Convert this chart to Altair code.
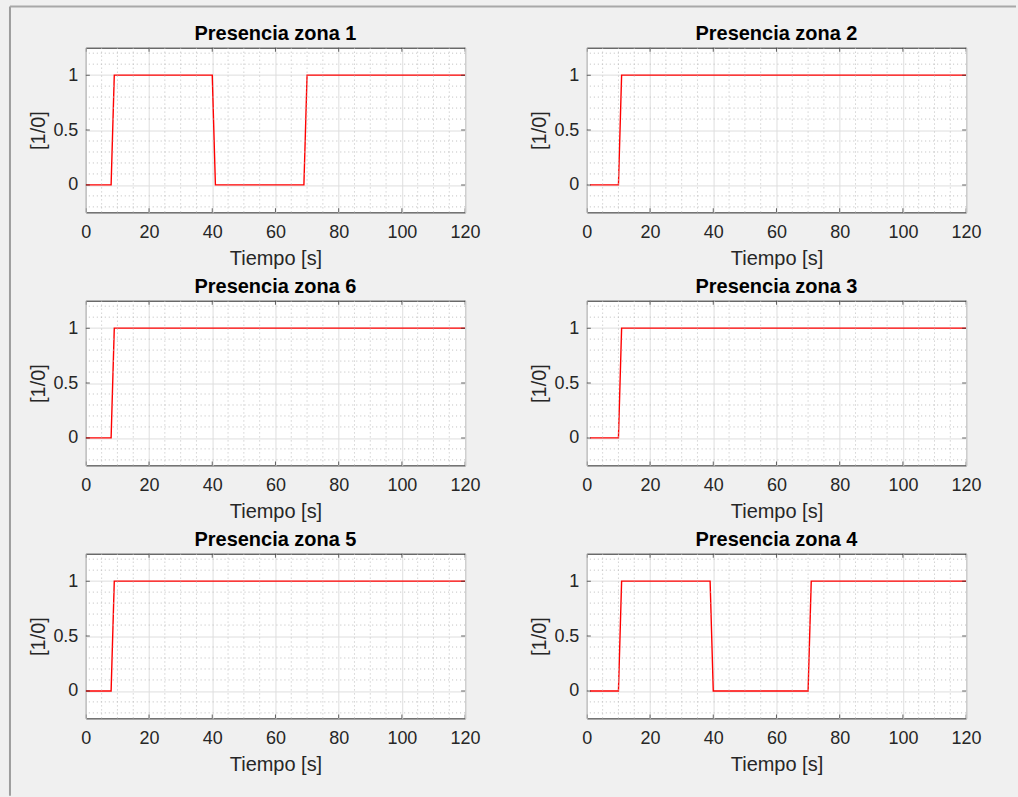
import altair as alt
import pandas as pd

# Presence signals (0 = empty, 1 = occupied) per zone, as step transitions
t_z1 = [0, 8, 9, 40, 41, 69, 70, 120]
v_z1 = [0, 0, 1, 1, 0, 0, 1, 1]
t_z2 = [1, 10, 11, 120]
v_z2 = [0, 0, 1, 1]
t_z6 = [0, 8, 9, 120]
v_z6 = [0, 0, 1, 1]
t_z3 = [1, 10, 11, 120]
v_z3 = [0, 0, 1, 1]
t_z5 = [0, 8, 9, 120]
v_z5 = [0, 0, 1, 1]
t_z4 = [1, 10, 11, 39, 40, 70, 71, 120]
v_z4 = [0, 0, 1, 1, 0, 0, 1, 1]

x_ticks = [0, 20, 40, 60, 80, 100, 120]
y_ticks = [0, 0.5, 1]
x_minor = [v for v in range(5, 120, 5) if v % 20 != 0]
y_minor = [-0.2, -0.1, 0.1, 0.2, 0.3, 0.4, 0.6, 0.7, 0.8, 0.9, 1.1, 1.2]
X_DOM = [0, 120]
Y_DOM = [-0.25, 1.25]

FONT = "Liberation Sans"
AX = "#262626"
W, H = 380, 165


def panel(title, t, v, window_frame=False):
    xs = alt.Scale(domain=X_DOM, nice=False, zero=False)
    ys = alt.Scale(domain=Y_DOM, nice=False, zero=False)
    df = pd.DataFrame({"t": t, "v": v})
    one = pd.DataFrame({"k": [0]})

    base = alt.Chart(df).mark_line(color="#ff0000", strokeWidth=1.4, clip=True).encode(
        x=alt.X("t:Q", scale=xs,
                axis=alt.Axis(values=x_ticks, title="Tiempo [s]", grid=True,
                              gridColor="#dedede", gridWidth=1, domain=False,
                              tickSize=0, labelPadding=11, titlePadding=7,
                              labelFontSize=18, titleFontSize=20, labelFont=FONT,
                              titleFont=FONT, labelColor=AX, titleColor=AX,
                              titleFontWeight="normal", labelFlush=False)),
        y=alt.Y("v:Q", scale=ys,
                axis=alt.Axis(values=y_ticks, format="~g", title="[1/0]", grid=True,
                              gridColor="#dedede", gridWidth=1, domain=False,
                              tickSize=0, labelPadding=8, titlePadding=4,
                              labelFontSize=18, titleFontSize=20, labelFont=FONT,
                              titleFont=FONT, labelColor=AX, titleColor=AX,
                              titleFontWeight="normal", labelFlush=False)),
    )

    minor_x = alt.Chart(pd.DataFrame({"t": x_minor})).mark_rule(
        color="#bdbdbd", strokeDash=[1, 3], strokeWidth=1
    ).encode(x=alt.X("t:Q", scale=xs))
    minor_y = alt.Chart(pd.DataFrame({"v": y_minor})).mark_rule(
        color="#bdbdbd", strokeDash=[1, 3], strokeWidth=1
    ).encode(y=alt.Y("v:Q", scale=ys))

    xt = pd.DataFrame({"t": x_ticks})
    yt = pd.DataFrame({"v": y_ticks})
    tick_bot = alt.Chart(xt).mark_tick(color=AX, orient="vertical", size=8, thickness=1, clip=True).encode(
        x=alt.X("t:Q", scale=xs), y=alt.datum(Y_DOM[0], scale=ys))
    tick_top = alt.Chart(xt).mark_tick(color=AX, orient="vertical", size=8, thickness=1, clip=True).encode(
        x=alt.X("t:Q", scale=xs), y=alt.datum(Y_DOM[1], scale=ys))
    tick_l = alt.Chart(yt).mark_tick(color=AX, orient="horizontal", size=8, thickness=1, clip=True).encode(
        y=alt.Y("v:Q", scale=ys), x=alt.datum(X_DOM[0], scale=xs))
    tick_r = alt.Chart(yt).mark_tick(color=AX, orient="horizontal", size=8, thickness=1, clip=True).encode(
        y=alt.Y("v:Q", scale=ys), x=alt.datum(X_DOM[1], scale=xs))

    # Panel heading, centred over the plot area
    heading = alt.Chart(one).mark_text(
        text=title, font=FONT, fontSize=20, fontWeight="bold", color="black",
        align="center", baseline="alphabetic",
    ).encode(x=alt.value(W / 2), y=alt.value(-7.3))

    layers = [base, minor_x, minor_y, tick_bot, tick_top, tick_l, tick_r, heading]

    if window_frame:
        # Edge of the figure window (top and left border), placed relative to this panel
        frame_left = alt.Chart(one).mark_rule(color="#9d9d9d", strokeWidth=2).encode(
            x=alt.value(-76), y=alt.value(-41.2), y2=alt.value(749.5))
        frame_top = alt.Chart(one).mark_rule(color="#a8a8a8", strokeWidth=2).encode(
            x=alt.value(-76), x2=alt.value(932), y=alt.value(-41.2))
        layers += [frame_left, frame_top]

    return alt.layer(*layers).properties(width=W, height=H)


zones = [
    ("Presencia zona 1", t_z1, v_z1), ("Presencia zona 2", t_z2, v_z2),
    ("Presencia zona 6", t_z6, v_z6), ("Presencia zona 3", t_z3, v_z3),
    ("Presencia zona 5", t_z5, v_z5), ("Presencia zona 4", t_z4, v_z4),
]

panels = [panel(*z, window_frame=(i == 0)) for i, z in enumerate(zones)]

chart = alt.concat(
    *panels,
    columns=2,
    spacing={"row": 88.5, "column": 122},
    bounds="flush",
).properties(
    padding={"left": 8, "top": 4, "right": 0, "bottom": 0},
    background="#f0f0f0",
).configure_view(
    stroke=AX, strokeWidth=1, fill="white"
)

chart.save("out.html", embed_options={"renderer": "svg", "actions": False})
